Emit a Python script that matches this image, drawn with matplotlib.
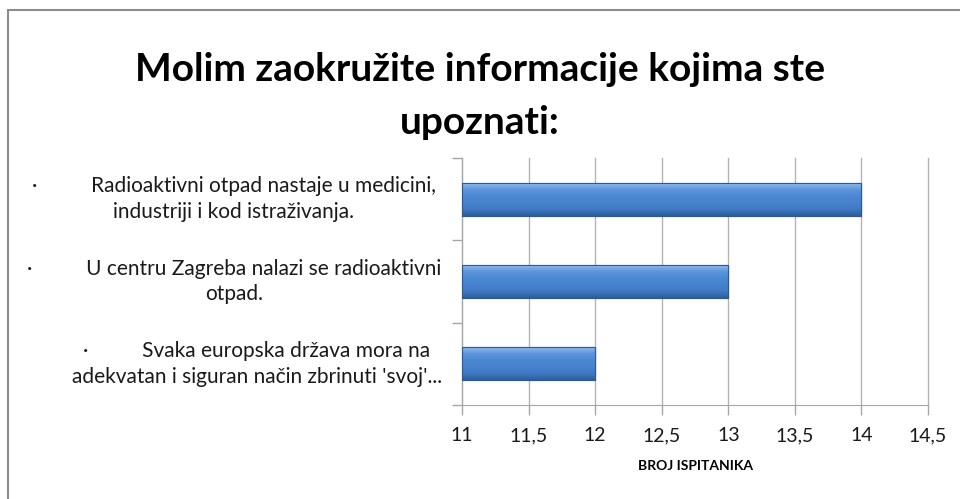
import numpy as np
import matplotlib
matplotlib.use('Agg')
import matplotlib.pyplot as plt
from matplotlib.colors import LinearSegmentedColormap
from matplotlib.patches import Rectangle

# Data
categories = [
    "·          Radioaktivni otpad nastaje u medicini,\nindustriji i kod istraživanja.",
    "·          U centru Zagreba nalazi se radioaktivni\notpad.",
    "·          Svaka europska država mora na\nadekvatan i siguran način zbrinuti 'svoj'...",
]
values = [14, 13, 12]
x_ticks = [11, 11.5, 12, 12.5, 13, 13.5, 14, 14.5]
x_tick_labels = ["11", "11,5", "12", "12,5", "13", "13,5", "14", "14,5"]

title = "Molim zaokružite informacije kojima ste\nupoznati:"
x_label = "BROJ ISPITANIKA"

plt.rcParams['font.family'] = ['Lato', 'DejaVu Sans']

fig = plt.figure(figsize=(9.6, 4.99), dpi=100)
ax = fig.add_axes([462 / 960, 1 - 405 / 499, (928 - 462) / 960, (405 - 158) / 499])

# gray outer frame (chart area border)
fig.patches.append(Rectangle((8 / 960, -0.1), 1.2, 1 - 10 / 499 + 0.1, transform=fig.transFigure,
                             fill=False, edgecolor='#8c8c8c', linewidth=1.5))

pos = np.arange(len(values))
bars = ax.barh(pos, [v - x_ticks[0] for v in values], left=x_ticks[0], height=0.4,
               color='#3d78c4', edgecolor='#2c5a94', linewidth=0.8, zorder=3)

# bevel-like vertical gradient on each bar
grad = LinearSegmentedColormap.from_list(
    'bev', ['#8fb8ec', '#5a94db', '#4c88d2', '#4683cf', '#3f79c3', '#2d5f9e'])
for b in bars:
    x0, y0, w, h = b.get_x(), b.get_y(), b.get_width(), b.get_height()
    ax.imshow(np.linspace(0, 1, 50).reshape(-1, 1), cmap=grad, aspect='auto',
              extent=(x0, x0 + w, y0 + h, y0), zorder=3.5, interpolation='bilinear')
    ax.add_patch(Rectangle((x0, y0), w, h, fill=False, edgecolor='#2c5a94', linewidth=0.8, zorder=4))

ax.set_xlim(x_ticks[0], x_ticks[-1])
ax.set_ylim(len(values) - 0.5, -0.5)
ax.set_xticks(x_ticks)
ax.set_xticklabels(x_tick_labels, fontsize=14, color='#1a1a1a')
ax.set_yticks(np.arange(len(values) + 1) - 0.5)
ax.set_yticklabels([])
ax.tick_params(axis='both', length=7, color='#a6a6a6', width=1)
ax.tick_params(axis='x', pad=9)

ax.grid(axis='x', color='#b3b3b3', linewidth=1, zorder=0)
for gl in ax.xaxis.get_gridlines():
    gl.set_clip_on(False)
for s in ['top', 'right']:
    ax.spines[s].set_visible(False)
for s in ['left', 'bottom']:
    ax.spines[s].set_color('#a6a6a6')

# category labels (centered multi-line, left of the axis); last one sits a bit further right
label_x = [-0.49, -0.49, -0.44]
for i, lab in enumerate(categories):
    ax.text(label_x[i], i, lab, transform=ax.get_yaxis_transform(), ha='center', va='center',
            multialignment='center', fontsize=15, color='#1a1a1a', linespacing=1.35)

ax.set_xlabel(x_label, fontsize=10, fontweight='bold', labelpad=11)
fig.text(0.5, 1 - 96 / 499, title, ha='center', va='center', fontsize=28,
         fontweight='bold', linespacing=1.65)

fig.savefig('out.png', dpi=100)
